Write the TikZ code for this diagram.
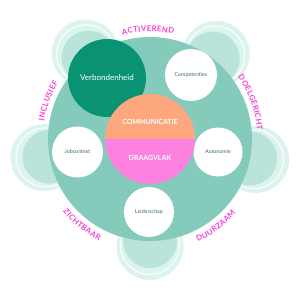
\documentclass[tikz,border=0pt]{standalone}
\usepackage{fontspec}
\setmainfont{Lato}
\definecolor{tablec}{HTML}{85CBBC}
\definecolor{chairmid}{HTML}{BAE4DA}
\definecolor{chairlight}{HTML}{DDF4EE}
\definecolor{verbc}{HTML}{0A9373}
\definecolor{orangec}{HTML}{FDA77F}
\definecolor{pinkc}{HTML}{FD82E0}
\definecolor{labelc}{HTML}{F73FD6}
\definecolor{satText}{HTML}{3D6E65}
\newcommand\lblfont{\fontsize{7.8pt}{8pt}\selectfont\bfseries}
% #1 radius, #2 mid angle, #3 +1 clockwise (top) / -1 counterclockwise (bottom), #4 letters, #5 name prefix
\newcommand\arclabel[5]{%
  \begingroup\lblfont
  \xdef\arcTot{0}%
  \foreach \ch in {#4}{%
    \pgfmathsetmacro\arcCw{width("\ch")+0.3}%
    \pgfmathsetmacro\arcTmp{\arcTot+\arcCw}%
    \xdef\arcTot{\arcTmp}}%
  \xdef\arcAcc{0}%
  \foreach \ch [count=\i] in {#4}{%
    \pgfmathsetmacro\arcCw{width("\ch")+0.3}%
    \pgfmathsetmacro\arcAng{#2+(#3)*(\arcTot/2-\arcAcc-\arcCw/2)/(#1)*180/pi}%
    \pgfmathsetmacro\arcRot{\arcAng-(#3)*90}%
    \node[lblchar,rotate=\arcRot] (#5\i) at (\arcAng:#1) {\ch};
    \pgfmathsetmacro\arcTmp{\arcAcc+\arcCw}%
    \xdef\arcAcc{\arcTmp}}%
  \endgroup}
\begin{document}
\begin{tikzpicture}[x=1pt,y=1pt,
  sat/.style={circle,fill=white,inner sep=0pt,text=satText,font=\fontsize{5.3pt}{6pt}\selectfont},
  ctext/.style={text=white,inner sep=0pt,font=\fontsize{7pt}{8pt}\selectfont\bfseries},
  lblchar/.style={anchor=base,inner sep=0pt,text=labelc,font=\lblfont}]
\useasboundingbox[fill=white] (-150,-161) rectangle (150,139);
% chairs
\foreach \a in {127,52,-11,-90,190}{
  \fill[chairlight] (\a:107.5) circle[radius=33.5pt];
  \draw[white,line width=1pt] (\a:106) circle[radius=29.5pt];
  \fill[chairmid] (\a:102) circle[radius=27pt];
}
% table
\node[circle,fill=tablec,minimum size=204pt,inner sep=0pt] (table) at (0,0) {};
% satellites
\node[circle,fill=verbc,minimum size=78pt,inner sep=0pt,text=white,font=\fontsize{8pt}{9pt}\selectfont] (verb) at (-43,61) {Verbondenheid};
\node[sat,minimum size=52pt] (comp) at (41,64) {Competenties};
\node[sat,minimum size=49pt] (auto) at (68,-13) {Autonomie};
\node[sat,minimum size=50pt] (leid) at (-1,-73) {Leiderschap};
\node[sat,minimum size=51pt] (job) at (-72.5,-13) {Jobcontext};
% centre
\fill[orangec] (45,0) arc[start angle=0,end angle=180,radius=45pt] -- cycle;
\fill[pinkc] (-45,0) arc[start angle=180,end angle=360,radius=45pt] -- cycle;
\node[ctext] (comm) at (0,17) {COMMUNICATIE};
\node[ctext] (draag) at (0,-19) {DRAAGVLAK};
% curved labels
\arclabel{107.5}{91}{1}{A,C,T,I,V,E,R,E,N,D}{act}
\arclabel{107.5}{20}{1}{D,O,E,L,G,E,R,I,C,H,T}{doel}
\arclabel{107.5}{159.4}{1}{I,N,C,L,U,S,I,E,F}{incl}
\arclabel{113.5}{-53}{-1}{D,U,U,R,Z,A,A,M}{duur}
\arclabel{113.5}{-128.4}{-1}{Z,I,C,H,T,B,A,A,R}{zicht}
\end{tikzpicture}
\end{document}
